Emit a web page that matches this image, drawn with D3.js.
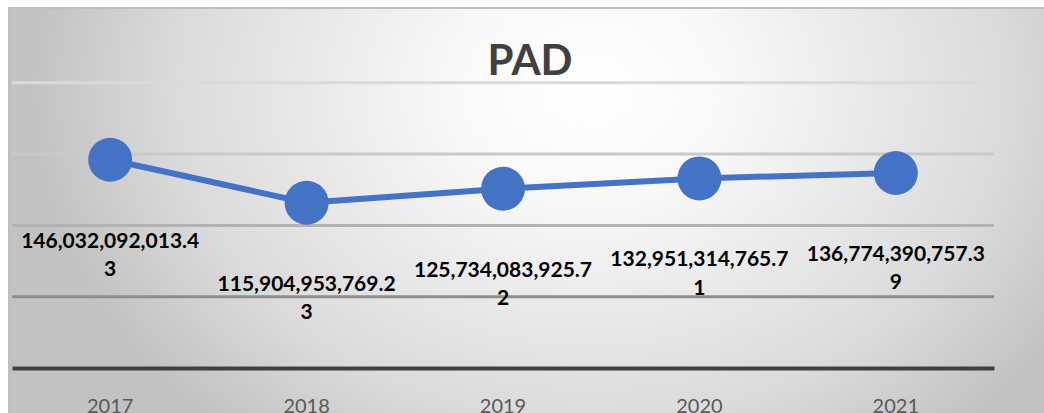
<!DOCTYPE html>
<html>
<head>
<meta charset="utf-8">
<script src="https://cdn.jsdelivr.net/npm/d3@7"></script>
<style>
	body { margin: 0; background: #fff; }
	svg { display: block; }
</style>
</head>
<body>
<div id="chartDiv"></div>
<script>
;(function() {

	// chart data
	var years = ["2017", "2018", "2019", "2020", "2021"];
	var padValues = [146032092013.43, 115904953769.23, 125734083925.72, 132951314765.71, 136774390757.39];
	var gridTicks = [50e9, 100e9, 150e9, 200e9];
	var chartTitle = "PAD";

	var width = 1044;
	var height = 413;
	var frame = { left: 9, top: 8 };
	var plot = { left: 12, right: 994, top: 11.5, bottom: 368 };

	var LINE_COLOR = "#4472c4";
	var gridColors = { 50e9: "#8e8e8e", 100e9: "#b2b2b2", 150e9: "#c9c9c9", 200e9: "#dadada" };

	var chart = d3.select("#chartDiv").append("svg")
		.attr("width", width)
		.attr("height", height);

	// background gradient
	var defs = chart.append("defs");
	var grad = defs.append("radialGradient")
		.attr("id", "bg")
		.attr("gradientUnits", "userSpaceOnUse")
		.attr("cx", 590).attr("cy", 90)
		.attr("r", 560)
		.attr("gradientTransform", "translate(590,90) scale(1,0.8) translate(-590,-90)");
	grad.append("stop").attr("offset", "0").attr("stop-color", "#ffffff");
	grad.append("stop").attr("offset", "0.25").attr("stop-color", "#f8f8f8");
	grad.append("stop").attr("offset", "0.75").attr("stop-color", "#dadada");
	grad.append("stop").attr("offset", "1").attr("stop-color", "#c2c2c2");

	chart.append("rect")
		.attr("x", frame.left)
		.attr("y", frame.top)
		.attr("width", 1070)
		.attr("height", 440)
		.attr("fill", "url(#bg)")
		.attr("stroke", "#bfbfbf")
		.attr("stroke-width", 2);

	var xScale = d3.scaleBand()
		.domain(years)
		.range([plot.left, plot.right]);

	var yScale = d3.scaleLinear()
		.domain([0, 250e9])
		.range([plot.bottom, plot.top]);

	// gridlines
	chart.append("g").selectAll("line")
		.data(gridTicks)
		.enter().append("line")
			.attr("x1", plot.left)
			.attr("x2", plot.right)
			.attr("y1", d => yScale(d))
			.attr("y2", d => yScale(d))
			.attr("stroke", d => gridColors[d])
			.attr("stroke-width", 3);

	// x axis
	var xAxis = d3.axisBottom(xScale).tickSize(0).tickPadding(31);
	var xAxisG = chart.append("g")
		.attr("transform", "translate(0," + yScale(0) + ")")
		.call(xAxis);
	xAxisG.select(".domain")
		.attr("stroke", "#404040")
		.attr("stroke-width", 4);
	xAxisG.selectAll("text")
		.attr("fill", "#595959")
		.style("font-family", "Lato, 'Open Sans', sans-serif")
		.style("font-size", "20px");

	// title
	chart.append("text")
		.attr("x", 530)
		.attr("y", 75)
		.attr("text-anchor", "middle")
		.attr("fill", "#404040")
		.style("font-family", "Lato, 'Open Sans', sans-serif")
		.style("font-weight", "bold")
		.style("font-size", "42px")
		.text(chartTitle);

	var cx = d => xScale(d.year) + xScale.bandwidth() / 2;
	var points = years.map((y, i) => ({ year: y, value: padValues[i] }));

	var line = d3.line()
		.x(cx)
		.y(d => yScale(d.value));

	chart.append("path")
		.datum(points)
		.attr("d", line)
		.attr("fill", "none")
		.attr("stroke", LINE_COLOR)
		.attr("stroke-width", 6)
		.attr("stroke-linejoin", "round");

	chart.append("g").selectAll("circle")
		.data(points)
		.enter().append("circle")
			.attr("cx", cx)
			.attr("cy", d => yScale(d.value))
			.attr("r", 22)
			.attr("fill", LINE_COLOR);

	// data labels, wrapped like the original
	var fmt = d3.format(",.2f");
	var labels = chart.append("g").selectAll("text")
		.data(points)
		.enter().append("text")
			.attr("text-anchor", "middle")
			.attr("fill", "#000")
			.style("font-family", "Lato, 'Open Sans', sans-serif")
			.style("font-weight", "bold")
			.style("font-size", "21px");

	labels.each(function(d) {
		var s = fmt(d.value);
		var t = d3.select(this);
		var y0 = yScale(d.value) + 88;
		t.append("tspan").attr("x", cx(d)).attr("y", y0).text(s.slice(0, -1));
		t.append("tspan").attr("x", cx(d)).attr("y", y0 + 28.5).text(s.slice(-1));
	});

})();
</script>
</body>
</html>
